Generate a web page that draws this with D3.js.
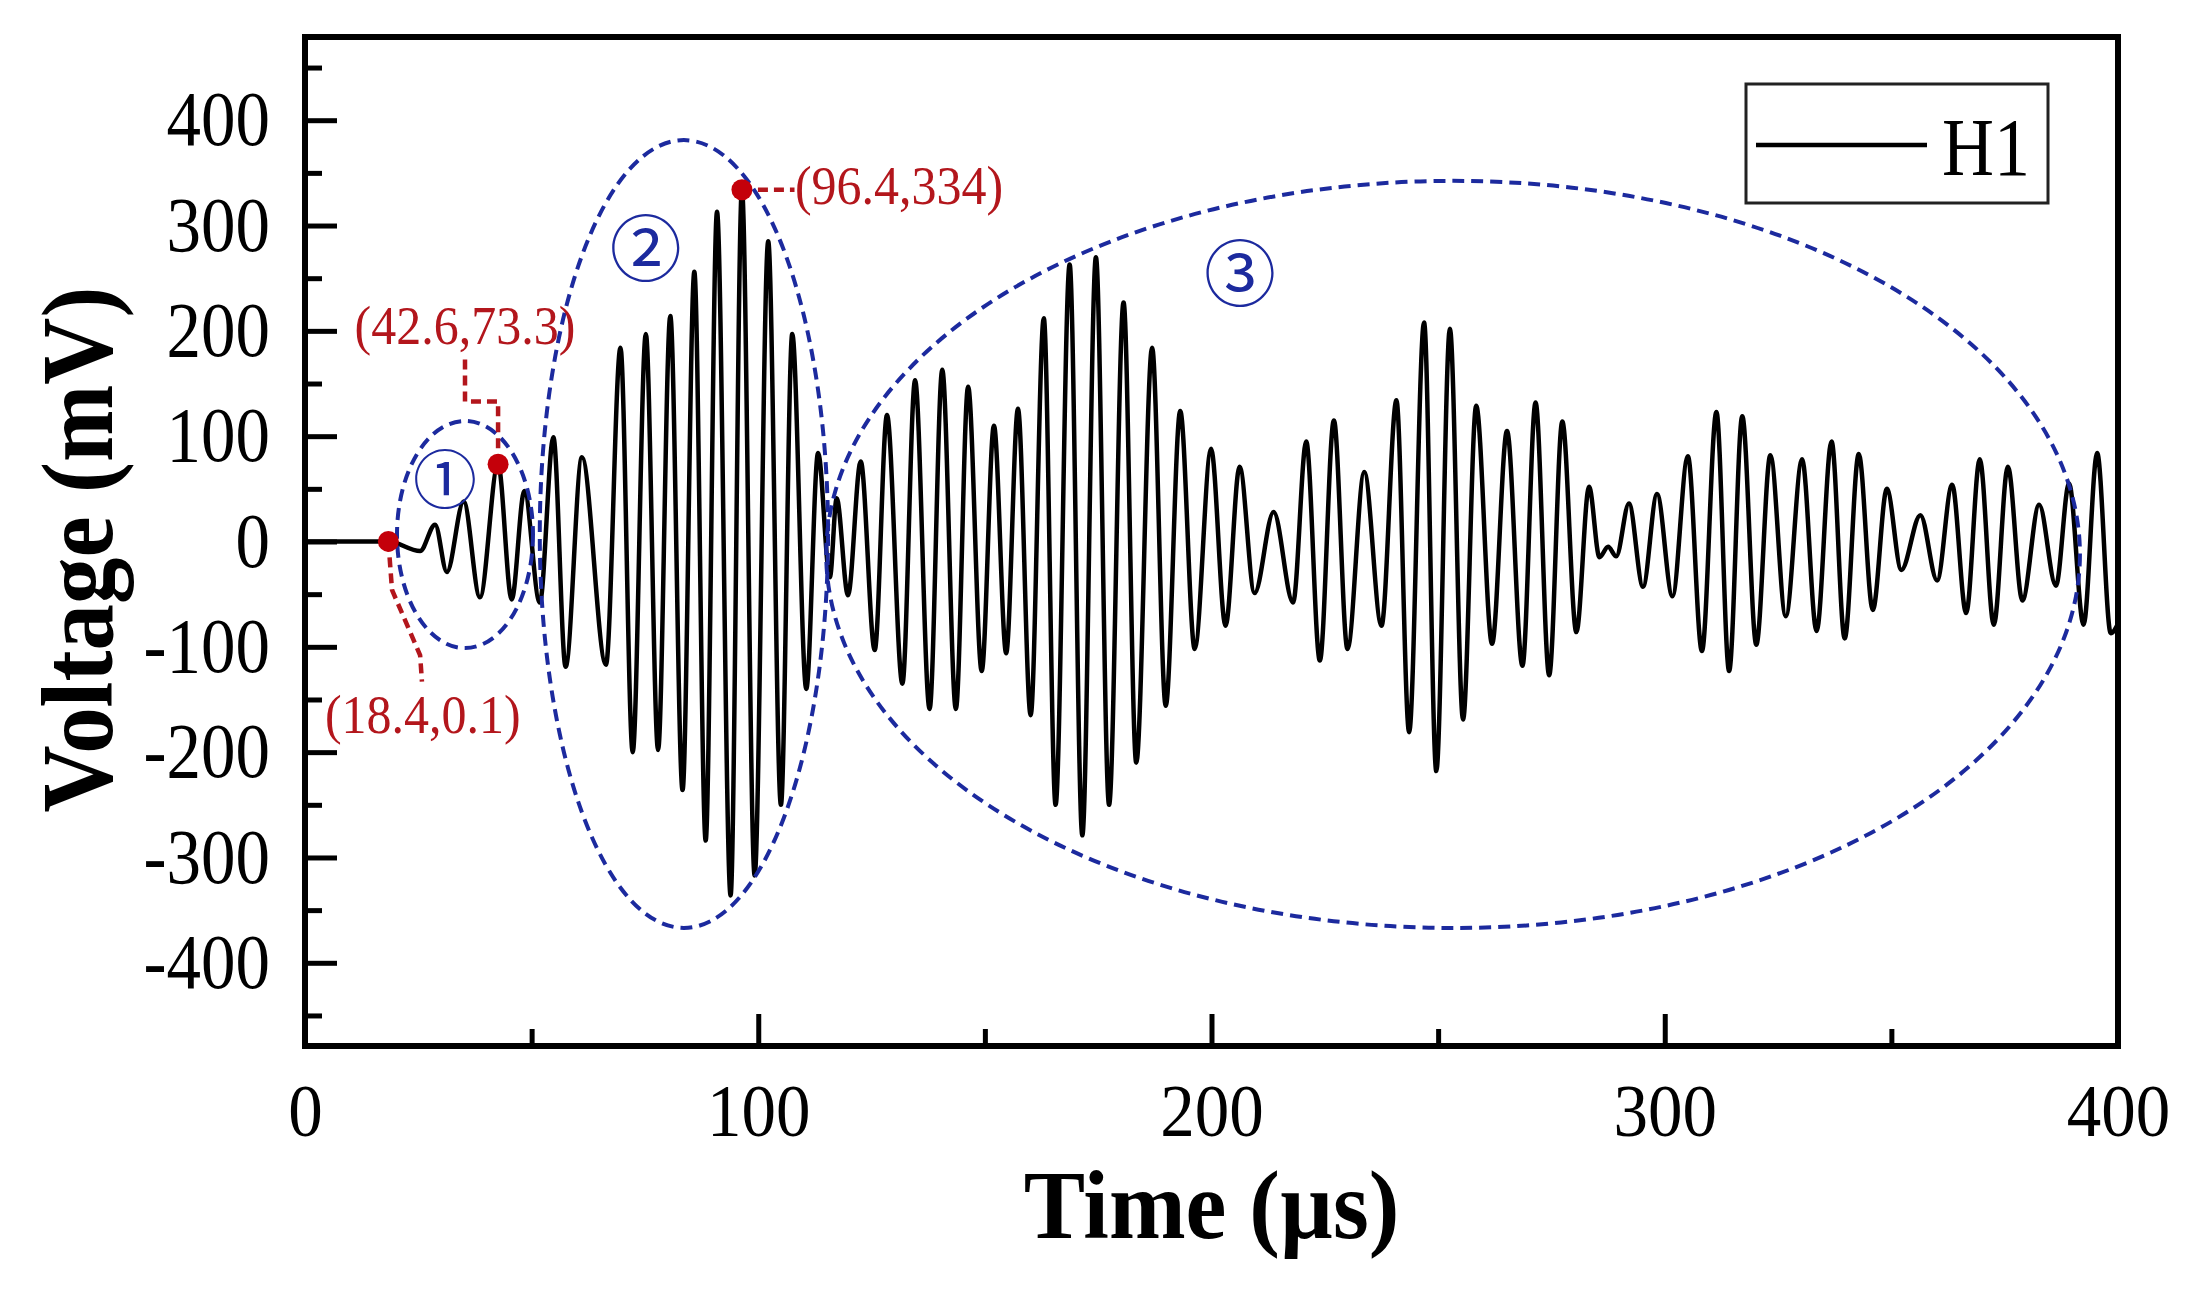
<!DOCTYPE html>
<html>
<head>
<meta charset="utf-8">
<script src="https://cdn.jsdelivr.net/npm/d3@7"></script>
<style>
  body { margin: 0; background: #fff; }
  svg { display: block; }
</style>
</head>
<body>
<svg id="chart"></svg>
<script>
// peaks and troughs (time in µs, voltage in mV)
const timeUs = [
  0, 18.4, 25.4, 28.7, 31.3, 35.0, 38.6, 42.6, 45.6, 48.4,
  51.8, 54.8, 57.5, 61.1, 66.4, 69.6, 72.3, 75.2, 77.9, 80.6,
  83.3, 85.9, 88.4, 90.9, 93.9, 96.4, 99.2, 102.2, 105.0, 107.5,
  110.6, 113.2, 115.8, 117.3, 119.8, 122.6, 125.7, 128.4, 131.8, 134.6,
  137.8, 140.6, 143.6, 146.3, 149.3, 152.0, 154.7, 157.3, 160.1, 163.0,
  165.6, 168.7, 171.5, 174.5, 177.4, 180.6, 183.4, 186.9, 189.9, 193.1,
  196.3, 199.9, 203.1, 206.2, 209.5, 213.7, 218.0, 220.9, 223.9, 227.0,
  230.0, 233.7, 237.5, 240.8, 243.6, 246.9, 249.6, 252.6, 255.5, 258.4,
  261.9, 265.2, 268.6, 271.5, 274.5, 277.4, 280.5, 283.3, 285.6, 287.5,
  289.3, 292.1, 295.2, 298.3, 301.7, 305.1, 308.2, 311.4, 314.2, 317.1,
  320.2, 323.3, 326.7, 330.3, 333.5, 336.8, 339.7, 342.8, 345.9, 349.0,
  352.2, 356.4, 360.1, 363.4, 366.5, 369.5, 372.6, 375.7, 378.9, 382.6,
  386.3, 389.2, 392.4, 395.4, 398.4, 400
]
const voltageMv = [
  0, 0.1, -9, 16, -29, 38, -53, 73.3, -55, 48,
  -58, 99, -119, 80, -117, 184, -200, 197, -198, 214,
  -236, 256, -284, 313, -336, 334, -317, 285, -250, 197,
  -140, 84, -34, 41, -51, 76, -103, 120, -135, 153,
  -159, 163, -159, 147, -123, 110, -106, 126, -165, 212,
  -250, 263, -279, 270, -250, 227, -210, 184, -156, 124,
  -102, 88, -80, 71, -49, 28, -58, 95, -113, 115,
  -102, 66, -80, 134, -181, 208, -218, 202, -169, 129,
  -97, 105, -118, 132, -127, 114, -86, 52, -15, -5,
  -14, 36, -43, 45, -52, 81, -104, 123, -123, 119,
  -98, 82, -71, 78, -85, 95, -92, 83, -65, 50,
  -27, 25, -37, 54, -68, 78, -79, 71, -56, 35,
  -42, 55, -79, 84, -87, -78
]

// marked points and their labels
const markTimes = [18.4, 42.6, 96.4]
const markVolts = [0.1, 73.3, 334]
const markLabels = ['(18.4,0.1)', '(42.6,73.3)', '(96.4,334)']
const markLabelT = [26.0, 35.3, 108.1]
const markLabelV = [-182, 187.6, 320.5]
const markAnchor = ['middle', 'middle', 'start']
const leaderLines = [
  [[18.4, 0.1], [19.2, -46], [25.4, -108], [25.8, -133]],
  [[42.6, 73.3], [42.6, 133], [35.3, 133], [35.3, 176]],
  [[96.4, 334], [108.0, 334]]
]

// the three stages, ellipses in data units
const zoneNames = ['①', '②', '③']
const zoneCx = [35.3, 83.6, 253.3]
const zoneCy = [6.6, 7.1, -12.3]
const zoneRx = [15.0, 31.8, 138.3]
const zoneRy = [107.8, 374, 354.7]
const zoneLabelT = [30.9, 75.2, 206.3]
const zoneLabelV = [63.6, 283, 258.8]

const xTicks = [0, 100, 200, 300, 400]
const xMinorTicks = [50, 150, 250, 350]
const yTicks = [-400, -300, -200, -100, 0, 100, 200, 300, 400]
const yMinorTicks = [-450, -350, -250, -150, -50, 50, 150, 250, 350, 450]

const seriesName = 'H1'

const W = 2204, H = 1290
const margin = {top: 37, right: 86, bottom: 244, left: 305}
const plotW = W - margin.left - margin.right
const plotH = H - margin.top - margin.bottom

const serif = '"Liberation Serif", "Times New Roman", serif'
const red = '#b3161c'
const blue = '#1c2a9e'

const svg = d3.select('#chart').attr('width', W).attr('height', H)
  .style('font-family', serif)

svg.append('rect').attr('width', W).attr('height', H).attr('fill', '#fff')

const x = d3.scaleLinear().domain([0, 400]).range([0, plotW])
const y = d3.scaleLinear().domain([-479, 479]).range([plotH, 0])

const g = svg.append('g').attr('transform', `translate(${margin.left},${margin.top})`)

// axes: ticks point inward, minor ones shorter
function styleAxis (sel) {
  sel.select('.domain').remove()
  sel.selectAll('.tick line').attr('stroke', '#000').attr('stroke-width', 5)
  sel.selectAll('text').attr('fill', '#000').style('font-family', serif).style('font-size', '69px')
}

g.append('g').attr('transform', `translate(0,${plotH})`)
  .call(d3.axisBottom(x).tickValues(xMinorTicks).tickSize(-17).tickFormat(''))
  .call(styleAxis)
g.append('g').attr('transform', `translate(0,${plotH})`)
  .call(d3.axisBottom(x).tickValues(xTicks).tickSize(-32).tickPadding(34).tickFormat(d => String(d)))
  .call(styleAxis)
  .call(s => s.selectAll('text').attr('transform', 'scale(1,1.08)'))

g.append('g')
  .call(d3.axisLeft(y).tickValues(yMinorTicks).tickSize(-17).tickFormat(''))
  .call(styleAxis)
g.append('g')
  .call(d3.axisLeft(y).tickValues(yTicks).tickSize(-32).tickPadding(35).tickFormat(d => String(d)))
  .call(styleAxis)
  .call(s => s.selectAll('text').attr('transform', 'scale(1,1.12)'))

// waveform
const points = timeUs.map((t, i) => [t, voltageMv[i]])
const line = d3.line()
  .x(d => x(d[0]))
  .y(d => y(d[1]))
  .curve(d3.curveMonotoneX)

g.append('path')
  .datum(points)
  .attr('d', line)
  .attr('fill', 'none')
  .attr('stroke', '#000')
  .attr('stroke-width', 4.5)
  .attr('stroke-linejoin', 'round')

// stage ellipses
zoneNames.forEach((name, i) => {
  g.append('ellipse')
    .attr('cx', x(zoneCx[i]))
    .attr('cy', y(zoneCy[i]))
    .attr('rx', x(zoneRx[i]) - x(0))
    .attr('ry', y(0) - y(zoneRy[i]))
    .attr('fill', 'none')
    .attr('stroke', blue)
    .attr('stroke-width', 4)
    .attr('stroke-dasharray', '12,7')
  g.append('text')
    .attr('x', x(zoneLabelT[i]))
    .attr('y', y(zoneLabelV[i]))
    .attr('text-anchor', 'middle')
    .attr('dominant-baseline', 'central')
    .attr('fill', blue)
    .style('font-family', '"Noto Sans CJK SC", "DejaVu Sans", sans-serif')
    .style('font-size', i === 0 ? '64px' : '72px')
    .text(name)
})

// leaders, dots, coordinates
const leader = d3.line().x(d => x(d[0])).y(d => y(d[1]))
leaderLines.forEach(pts => {
  g.append('path')
    .attr('d', leader(pts))
    .attr('fill', 'none')
    .attr('stroke', red)
    .attr('stroke-width', 4.5)
    .attr('stroke-dasharray', '10,6')
})

markTimes.forEach((t, i) => {
  g.append('circle')
    .attr('cx', x(t))
    .attr('cy', y(markVolts[i]))
    .attr('r', 10.5)
    .attr('fill', '#c4000a')
  g.append('text')
    .attr('transform', `translate(${x(markLabelT[i])},${y(markLabelV[i])}) scale(1,1.1)`)
    .attr('text-anchor', markAnchor[i])
    .attr('fill', red)
    .style('font-size', '50px')
    .text(markLabels[i])
})

// frame
g.append('rect')
  .attr('width', plotW)
  .attr('height', plotH)
  .attr('fill', 'none')
  .attr('stroke', '#000')
  .attr('stroke-width', 6)

// legend
const legend = svg.append('g').attr('transform', 'translate(1746,84)')
legend.append('rect')
  .attr('width', 302).attr('height', 119)
  .attr('fill', '#fff').attr('stroke', '#222').attr('stroke-width', 3)
legend.append('line')
  .attr('x1', 10).attr('x2', 181).attr('y1', 61).attr('y2', 61)
  .attr('stroke', '#000').attr('stroke-width', 4.5)
legend.append('text')
  .attr('transform', 'translate(196,91) scale(1,1.15)')
  .style('font-size', '72px')
  .text(seriesName)

// axis titles
svg.append('text')
  .attr('transform', `translate(112,${margin.top + y(0) + 8}) rotate(-90) scale(1,1.1)`)
  .attr('text-anchor', 'middle')
  .style('font-size', '93px').style('font-weight', 'bold')
  .text('Voltage (mV)')

svg.append('text')
  .attr('transform', `translate(${margin.left + x(200)},1238) scale(1,1.05)`)
  .attr('text-anchor', 'middle')
  .style('font-size', '92px').style('font-weight', 'bold')
  .text('Time (µs)')
</script>
</body>
</html>
